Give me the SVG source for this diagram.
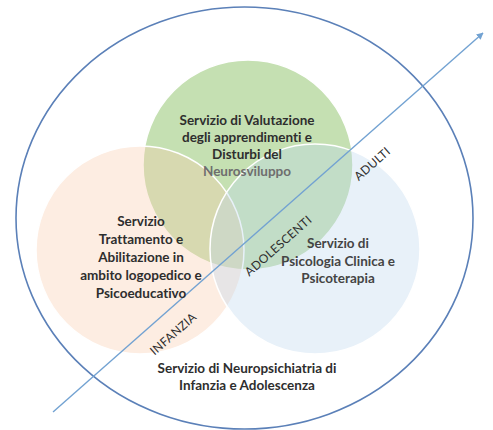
<svg xmlns="http://www.w3.org/2000/svg" width="493" height="430" viewBox="0 0 493 430">
<defs>
<style>
.bg{fill:#ffffff}
.outer{fill:none;stroke:#5b80b8;stroke-width:1.6}
.c{stroke:#ffffff;stroke-width:1.5}
.t{font-family:Lato,"Liberation Sans",sans-serif;font-weight:bold;font-size:13.5px;fill:#2e2e2e;text-anchor:middle;font-variant-ligatures:none}
.age{font-family:Lato,"Liberation Sans",sans-serif;font-size:12px;fill:#2e2e2e;text-anchor:middle;letter-spacing:0.3px;font-variant-ligatures:none}
.arrow{stroke:#72a2d2;stroke-width:1.4;fill:none}
</style>
<marker id="ah" viewBox="0 0 10 10" refX="9" refY="5" markerWidth="7" markerHeight="7" orient="auto" markerUnits="userSpaceOnUse">
<path d="M0,0 L10,5 L0,10 z" fill="#72a2d2"/>
</marker>
</defs>
<rect class="bg" x="0" y="0" width="493" height="430"/>
<g id="outer-circle">
<ellipse class="outer" cx="244.5" cy="218" rx="228.5" ry="211"/>
</g>
<g id="node-valutazione">
<circle class="c" cx="248" cy="165" r="105" fill="#a9d18e" fill-opacity="0.68"/>
</g>
<g id="node-trattamento">
<circle class="c" cx="140" cy="250" r="104" fill="#f8cbad" fill-opacity="0.35"/>
</g>
<g id="node-psicologia">
<circle class="c" cx="315" cy="249" r="105" fill="#bdd7ee" fill-opacity="0.35"/>
</g>
<g id="connectors">
<line class="arrow" x1="53" y1="412" x2="483" y2="33" marker-end="url(#ah)"/>
</g>
<g id="labels-valutazione">
<text class="t" x="247" y="125">Servizio di Valutazione</text>
<text class="t" x="247" y="142">degli apprendimenti e</text>
<text class="t" x="247" y="159">Disturbi del</text>
<text class="t" x="247" y="176" style="fill:#6e6e6e">Neurosviluppo</text>
</g>
<g id="labels-trattamento">
<text class="t" x="141" y="226">Servizio</text>
<text class="t" x="141" y="244">Trattamento e</text>
<text class="t" x="141" y="262">Abilitazione in</text>
<text class="t" x="141" y="280">ambito logopedico e</text>
<text class="t" x="141" y="298">Psicoeducativo</text>
</g>
<g id="labels-psicologia">
<text class="t" x="338" y="248" style="fill:#444">Servizio di</text>
<text class="t" x="338" y="266" style="fill:#444">Psicologia Clinica e</text>
<text class="t" x="338" y="283" style="fill:#444">Psicoterapia</text>
</g>
<g id="label-npi">
<text class="t" x="247" y="373">Servizio di Neuropsichiatria di</text>
<text class="t" x="247" y="390">Infanzia e Adolescenza</text>
</g>
<g id="age-labels">
<text class="age" transform="translate(176,337) rotate(-41.3)">INFANZIA</text>
<text class="age" transform="translate(281,249) rotate(-41.3)">ADOLESCENTI</text>
<text class="age" transform="translate(375,167) rotate(-41.3)">ADULTI</text>
</g>
</svg>
